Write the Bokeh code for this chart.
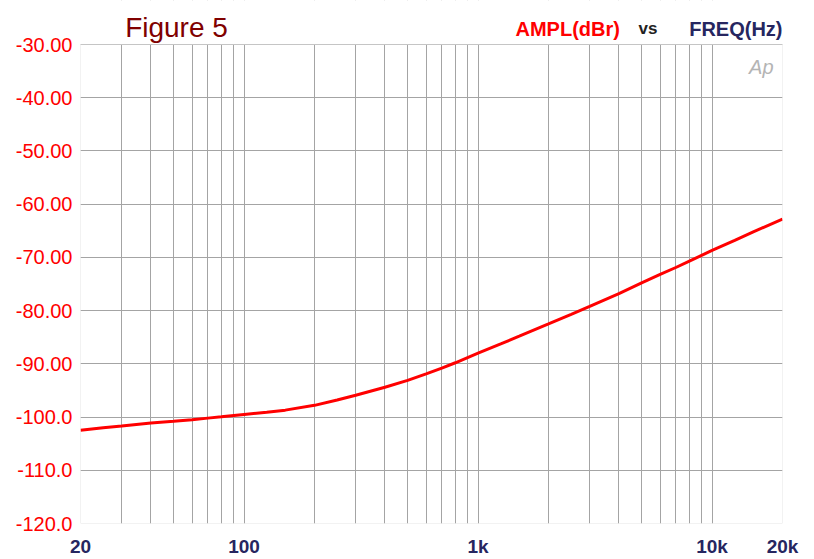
from bokeh.plotting import figure
from bokeh.models import FixedTicker, Label, Range1d, BoxAnnotation
from bokeh.embed import file_html
from bokeh.resources import INLINE

# ---- data ----
freq = [20, 25, 30, 40, 50, 60, 70, 80, 100, 125, 150, 200, 250, 300, 400,
        500, 600, 700, 800, 1000, 1250, 1500, 2000, 2500, 3000, 4000, 5000,
        6000, 7000, 8000, 10000, 12500, 15000, 20000]
ampl = [-102.5, -102.0, -101.7, -101.1, -100.8, -100.5, -100.2, -99.95,
        -99.5, -99.1, -98.7, -97.8, -96.8, -95.9, -94.4, -93.1, -91.9,
        -90.8, -89.8, -88.0, -86.25, -84.8, -82.5, -80.7, -79.2, -76.8,
        -74.8, -73.2, -71.9, -70.7, -68.7, -66.8, -65.2, -62.8]

x_ticks = [20, 100, 1000, 10000, 20000]
x_tick_labels = ["20", "100", "1k", "10k", "20k"]
y_ticks = [-120, -110, -100, -90, -80, -70, -60, -50, -40, -30]
y_tick_labels = ["-120.0", "-110.0", "-100.0", "-90.00", "-80.00", "-70.00",
                 "-60.00", "-50.00", "-40.00", "-30.00"]

RED = "#ff0000"
NAVY = "#262660"
GRID = "#a4a4a4"
FONT = "Liberation Sans"

# layout: plot box 479 px tall, 44 px of header above it inside the frame
Y_MIN, Y_MAX = -120, -30
BOX_H, HEAD_H = 479, 44
y_top = Y_MAX + HEAD_H * (Y_MAX - Y_MIN) / BOX_H

p = figure(width=806, height=559, x_axis_type="log",
           x_range=Range1d(20, 20000), y_range=Range1d(Y_MIN, y_top),
           output_backend="svg", toolbar_location=None,
           min_border_left=80, min_border_right=24,
           min_border_top=0, min_border_bottom=36)

p.background_fill_color = "white"
p.border_fill_color = "white"
p.outline_line_color = None

# x axis
p.xaxis.ticker = FixedTicker(ticks=x_ticks)
p.xaxis.major_label_overrides = {t: l for t, l in zip(x_ticks, x_tick_labels)}
p.xaxis.axis_line_color = None
p.xaxis.major_tick_line_color = None
p.xaxis.minor_tick_line_color = None
p.xaxis.major_tick_out = 0
p.xaxis.major_tick_in = 0
p.xaxis.major_label_standoff = 12
p.xaxis.major_label_text_color = NAVY
p.xaxis.major_label_text_font = FONT
p.xaxis.major_label_text_font_size = "19px"
p.xaxis.major_label_text_font_style = "bold"
grid_ticks = [m * 10 ** e for e in (1, 2, 3, 4) for m in range(1, 10)]
grid_ticks = [g for g in grid_ticks if 20 < g <= 10000]
p.xgrid.ticker = FixedTicker(ticks=grid_ticks)
p.xgrid.grid_line_color = GRID
p.xgrid.grid_line_width = 1

# y axis
p.yaxis.ticker = FixedTicker(ticks=y_ticks)
p.yaxis.major_label_overrides = {t: l for t, l in zip(y_ticks, y_tick_labels)}
p.yaxis.axis_line_color = None
p.yaxis.major_tick_line_color = None
p.yaxis.minor_tick_line_color = None
p.yaxis.major_tick_out = 0
p.yaxis.major_tick_in = 0
p.yaxis.major_label_standoff = 8
p.yaxis.major_label_text_color = RED
p.yaxis.major_label_text_font = FONT
p.yaxis.major_label_text_font_size = "20px"
p.ygrid.ticker = FixedTicker(ticks=y_ticks)
p.ygrid.grid_line_color = GRID
p.ygrid.grid_line_width = 1

# curve
p.line(freq, ampl, line_color=RED, line_width=3)

# header area: white cover above the plot box, then box border
p.add_layout(BoxAnnotation(bottom=Y_MAX, fill_color="white", fill_alpha=1,
                           line_color=None))
p.add_layout(BoxAnnotation(top=Y_MAX, fill_alpha=0, line_color="#aaaaaa",
                           line_width=1))

# header texts (screen units, from the frame's bottom-left)
def add_text(x, y, text, color, size, style="normal", align="left"):
    p.add_layout(Label(x=x, y=y, x_units="screen", y_units="screen", text=text,
                       text_align=align, text_baseline="alphabetic",
                       text_color=color, text_font=FONT, text_font_size=size,
                       text_font_style=style))

add_text(96, 496, "Figure 5", "#800000", "28px", align="center")
add_text(435, 495, "AMPL(dBr)", RED, "20px", "bold")
add_text(558, 495, "vs", "#222222", "17px", "bold")
add_text(702, 495, "FREQ(Hz)", NAVY, "20px", "bold", align="right")
add_text(693, 457, "Ap", "#b4b4b4", "20px", "italic", align="right")

open("out.html", "w").write(file_html(p, INLINE))
